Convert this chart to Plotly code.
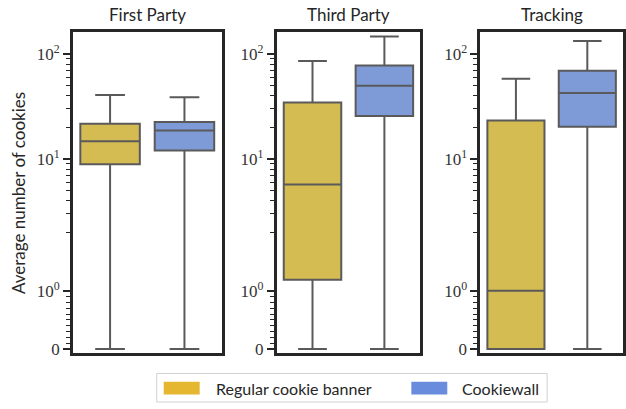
import numpy as np
import plotly.graph_objects as go

# ---- data ----
panels = ["First Party", "Third Party", "Tracking"]
groups = ["Regular cookie banner", "Cookiewall"]

q1_regular = [8.9, 1.19, 0.0]
med_regular = [14.7, 5.7, 1.0]
q3_regular = [21.6, 34.4, 23.2]
lo_regular = [0.0, 0.0, 0.0]
hi_regular = [40.6, 85.5, 57.9]

q1_wall = [12.0, 25.6, 20.2]
med_wall = [18.7, 49.8, 42.5]
q3_wall = [22.5, 77.7, 69.3]
lo_wall = [0.0, 0.0, 0.0]
hi_wall = [38.6, 146.8, 133.0]

major_vals = [0, 1, 10, 100]
major_text = ["0", "10<sup>0</sup>", "10<sup>1</sup>", "10<sup>2</sup>"]
minor_vals = [0.1, 0.2, 0.3, 0.4, 0.5, 0.6, 0.7, 0.8, 0.9,
              2, 3, 4, 5, 6, 7, 8, 9, 20, 30, 40, 50, 60, 70, 80, 90, 200]

# ---- symlog transform (linthresh=2, linscale=1, base 10) ----
LT = 2.0
LS = 1.0 / (1 - 1 / 10.0)


def symlog(v):
    v = np.asarray(v, dtype=float)
    a = np.abs(v)
    out = np.where(a <= LT, v * LS / LT,
                   np.sign(v) * (LS + np.log10(np.maximum(a, 1e-12) / LT)))
    return out


W, H = 626, 409
fill_regular = "#D4BB52"
fill_wall = "#7E9BD8"
leg_regular = "#E5B730"
leg_wall = "#6A8CDC"
edge = "#5A5A5A"
frame = "#262626"
SANS = "Lato"
FS = 17

x_dom = [(73, 222), (277, 421), (481, 624)]
y_top, y_bot = 32, 358
ydom = [(H - y_bot) / H, (H - y_top) / H]
yrange = [-0.035, 3.023]

fig = go.Figure()
annotations = []
for i, name in enumerate(panels):
    xa = "x" if i == 0 else f"x{i+1}"
    ya = "y" if i == 0 else f"y{i+1}"
    for j, (q1, md, q3, lo, hi, col) in enumerate([
        (q1_regular, med_regular, q3_regular, lo_regular, hi_regular, fill_regular),
        (q1_wall, med_wall, q3_wall, lo_wall, hi_wall, fill_wall),
    ]):
        fig.add_trace(go.Box(
            x=[j],
            q1=symlog([q1[i]]), median=symlog([md[i]]), q3=symlog([q3[i]]),
            lowerfence=symlog([lo[i]]), upperfence=symlog([hi[i]]),
            width=0.8, whiskerwidth=0.5, boxpoints=False,
            fillcolor=col, line=dict(color=edge, width=2),
            name=groups[j], showlegend=False, xaxis=xa, yaxis=ya,
            hoverinfo="skip",
        ))
    d = [x_dom[i][0] / W, x_dom[i][1] / W]
    axkey = "xaxis" if i == 0 else f"xaxis{i+1}"
    aykey = "yaxis" if i == 0 else f"yaxis{i+1}"
    fig.update_layout(**{
        axkey: dict(domain=d, range=[-0.5, 1.5], showticklabels=False, ticks="",
                    showgrid=False, zeroline=False, showline=True, mirror=True,
                    linewidth=2.5, linecolor=frame, anchor=ya, fixedrange=True),
        aykey: dict(domain=ydom, range=yrange, tickmode="array",
                    tickvals=symlog(major_vals).tolist(), ticktext=major_text,
                    ticks="outside", ticklen=7, tickwidth=1.6, tickcolor=frame,
                    tickfont=dict(family="Liberation Serif", size=17, color="#333333"),
                    minor=dict(tickmode="array", tickvals=symlog(minor_vals).tolist(),
                               ticks="outside", ticklen=4, tickwidth=1.2, tickcolor=frame,
                               showgrid=False),
                    showgrid=False, zeroline=False, showline=True, mirror=True,
                    linewidth=2.5, linecolor=frame, anchor=xa, fixedrange=True),
    })
    annotations.append(dict(text=name, x=(d[0] + d[1]) / 2, y=(H - 15) / H,
                            xref="paper", yref="paper", showarrow=False,
                            xanchor="center", yanchor="middle",
                            font=dict(family=SANS, size=FS, color="#262626")))

annotations.append(dict(text="Average number of cookies", x=18 / W, y=(H - 196) / H,
                        xref="paper", yref="paper", showarrow=False, textangle=-90,
                        xanchor="center", yanchor="middle",
                        font=dict(family=SANS, size=FS, color="#262626")))

# legend (drawn manually to match patch-style entries)
shapes = [
    dict(type="rect", xref="paper", yref="paper", x0=157 / W, x1=548 / W,
         y0=(H - 408) / H, y1=(H - 379) / H, line=dict(color="#D0D0D0", width=1),
         fillcolor="rgba(255,255,255,0.8)"),
    dict(type="rect", xref="paper", yref="paper", x0=164 / W, x1=200 / W,
         y0=(H - 400.5) / H, y1=(H - 387.5) / H, line=dict(width=0), fillcolor=leg_regular),
    dict(type="rect", xref="paper", yref="paper", x0=412 / W, x1=448 / W,
         y0=(H - 400.5) / H, y1=(H - 387.5) / H, line=dict(width=0), fillcolor=leg_wall),
]
annotations.append(dict(text=groups[0], x=214 / W, y=(H - 394) / H, xref="paper", yref="paper",
                        showarrow=False, xanchor="left", yanchor="middle",
                        font=dict(family=SANS, size=FS - 1, color="#262626")))
annotations.append(dict(text=groups[1], x=461 / W, y=(H - 394) / H, xref="paper", yref="paper",
                        showarrow=False, xanchor="left", yanchor="middle",
                        font=dict(family=SANS, size=FS - 1, color="#262626")))

fig.update_layout(width=W, height=H, margin=dict(l=0, r=0, t=0, b=0),
                  paper_bgcolor="white", plot_bgcolor="white",
                  annotations=annotations, shapes=shapes, showlegend=False)

fig.write_html("out.html")
